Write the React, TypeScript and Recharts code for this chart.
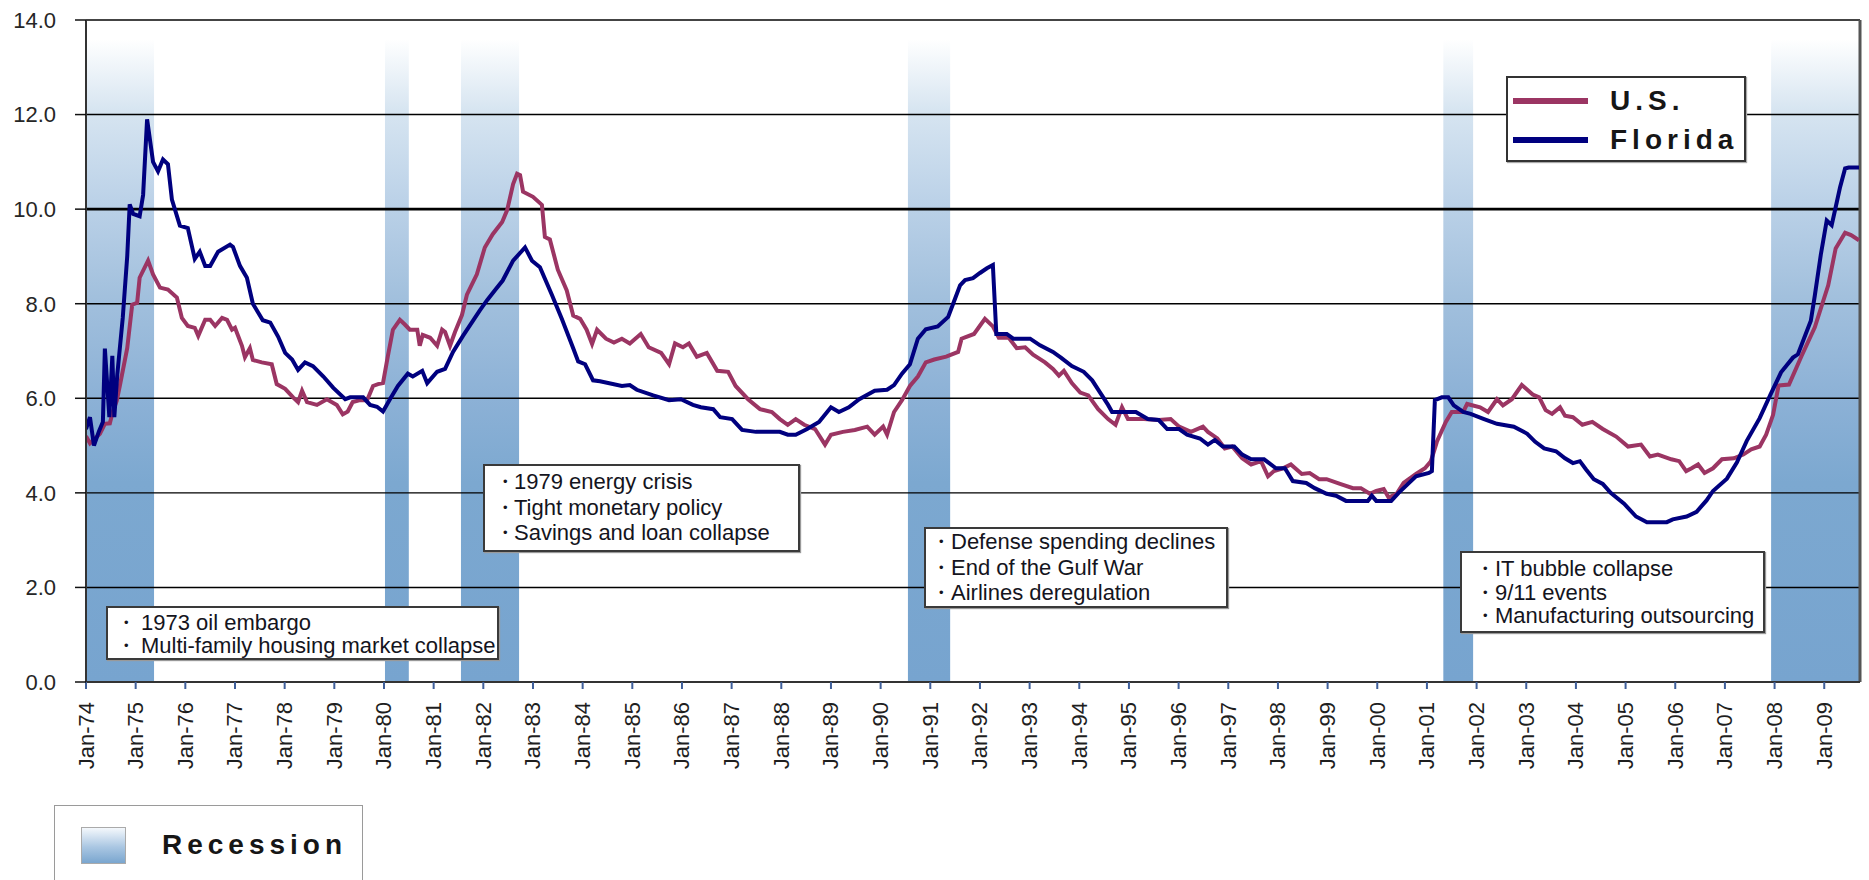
import React from 'react'
import { LineChart, Line, XAxis, YAxis, ReferenceArea, ReferenceLine, Legend } from 'recharts'

// Unemployment rate (%): [decimal year, rate]
const usRate: [number, number][] = [
  [1974.00, 5.2], [1974.08, 5.05], [1974.28, 5.25], [1974.38, 5.46], [1974.48, 5.47], [1974.54, 5.72], [1974.62, 5.95],
  [1974.68, 6.26], [1974.83, 7.06], [1974.93, 7.98], [1975.03, 8.02], [1975.08, 8.55], [1975.25, 8.91], [1975.35, 8.62],
  [1975.49, 8.34], [1975.65, 8.3], [1975.83, 8.13], [1975.93, 7.7], [1976.05, 7.53], [1976.19, 7.49], [1976.26, 7.32],
  [1976.40, 7.66], [1976.50, 7.66], [1976.60, 7.53], [1976.74, 7.7], [1976.84, 7.66], [1976.94, 7.45], [1977.00, 7.49],
  [1977.14, 7.11], [1977.20, 6.87], [1977.30, 7.06], [1977.36, 6.81], [1977.54, 6.76], [1977.74, 6.72], [1977.84, 6.3],
  [1978.01, 6.2], [1978.17, 6.02], [1978.27, 5.92], [1978.35, 6.16], [1978.45, 5.92], [1978.65, 5.86], [1978.85, 5.98],
  [1979.05, 5.86], [1979.17, 5.66], [1979.27, 5.72], [1979.37, 5.92], [1979.52, 5.96], [1979.66, 5.96], [1979.78, 6.26],
  [1979.88, 6.3], [1979.98, 6.32], [1980.08, 6.9], [1980.18, 7.45], [1980.32, 7.66], [1980.42, 7.56], [1980.52, 7.45],
  [1980.67, 7.45], [1980.72, 7.11], [1980.78, 7.34], [1980.93, 7.28], [1981.07, 7.11], [1981.17, 7.45], [1981.23, 7.4],
  [1981.33, 7.11], [1981.43, 7.4], [1981.57, 7.76], [1981.67, 8.19], [1981.87, 8.62], [1982.03, 9.19], [1982.19, 9.47],
  [1982.38, 9.73], [1982.48, 9.98], [1982.60, 10.53], [1982.68, 10.75], [1982.74, 10.72], [1982.80, 10.37], [1983.00, 10.26],
  [1983.18, 10.09], [1983.24, 9.41], [1983.34, 9.36], [1983.50, 8.72], [1983.68, 8.28], [1983.81, 7.75], [1983.95, 7.68],
  [1984.08, 7.45], [1984.19, 7.15], [1984.29, 7.45], [1984.47, 7.26], [1984.63, 7.18], [1984.79, 7.26], [1984.95, 7.16],
  [1985.17, 7.36], [1985.33, 7.08], [1985.58, 6.96], [1985.74, 6.72], [1985.86, 7.16], [1986.02, 7.08], [1986.14, 7.16],
  [1986.30, 6.88], [1986.50, 6.96], [1986.71, 6.58], [1986.93, 6.56], [1987.08, 6.26], [1987.33, 5.98], [1987.57, 5.77],
  [1987.81, 5.71], [1987.97, 5.56], [1988.13, 5.44], [1988.29, 5.56], [1988.46, 5.44], [1988.68, 5.35], [1988.88, 5.02],
  [1989.00, 5.23], [1989.24, 5.29], [1989.48, 5.33], [1989.73, 5.4], [1989.88, 5.23], [1990.05, 5.4], [1990.13, 5.23],
  [1990.27, 5.71], [1990.43, 5.96], [1990.59, 6.26], [1990.75, 6.46], [1990.91, 6.76], [1991.08, 6.82], [1991.32, 6.88],
  [1991.56, 6.98], [1991.63, 7.26], [1991.88, 7.36], [1992.10, 7.68], [1992.26, 7.52], [1992.38, 7.28], [1992.58, 7.28],
  [1992.74, 7.06], [1992.91, 7.08], [1993.07, 6.92], [1993.31, 6.76], [1993.47, 6.62], [1993.59, 6.48], [1993.69, 6.58],
  [1993.85, 6.32], [1994.02, 6.12], [1994.18, 6.06], [1994.38, 5.77], [1994.58, 5.56], [1994.73, 5.44], [1994.86, 5.81],
  [1994.98, 5.56], [1995.30, 5.56], [1995.60, 5.54], [1995.84, 5.56], [1996.01, 5.4], [1996.25, 5.29], [1996.49, 5.4],
  [1996.59, 5.29], [1996.78, 5.15], [1996.93, 4.94], [1997.08, 4.98], [1997.28, 4.73], [1997.46, 4.6], [1997.66, 4.67],
  [1997.80, 4.35], [1997.92, 4.46], [1998.10, 4.52], [1998.26, 4.6], [1998.48, 4.4], [1998.64, 4.42], [1998.83, 4.29],
  [1998.98, 4.29], [1999.25, 4.19], [1999.51, 4.1], [1999.67, 4.1], [1999.85, 3.98], [1999.98, 4.04], [2000.13, 4.08],
  [2000.23, 3.9], [2000.39, 3.98], [2000.53, 4.21], [2000.78, 4.4], [2000.96, 4.52], [2001.08, 4.67], [2001.20, 5.08],
  [2001.38, 5.5], [2001.50, 5.71], [2001.73, 5.71], [2001.81, 5.88], [2002.07, 5.81], [2002.23, 5.71], [2002.41, 5.98],
  [2002.53, 5.85], [2002.71, 5.98], [2002.91, 6.28], [2003.13, 6.08], [2003.26, 6.02], [2003.39, 5.75], [2003.52, 5.67],
  [2003.68, 5.81], [2003.78, 5.63], [2003.94, 5.6], [2004.13, 5.44], [2004.33, 5.5], [2004.54, 5.35], [2004.81, 5.19],
  [2005.05, 4.98], [2005.31, 5.02], [2005.49, 4.77], [2005.65, 4.81], [2005.92, 4.71], [2006.08, 4.67], [2006.22, 4.46],
  [2006.33, 4.52], [2006.46, 4.6], [2006.59, 4.42], [2006.76, 4.52], [2006.94, 4.71], [2007.18, 4.73], [2007.37, 4.81],
  [2007.53, 4.92], [2007.70, 4.98], [2007.83, 5.23], [2007.97, 5.65], [2008.08, 6.27], [2008.29, 6.29], [2008.55, 6.91],
  [2008.81, 7.5], [2009.08, 8.39], [2009.23, 9.17], [2009.42, 9.5], [2009.54, 9.45], [2009.70, 9.34],
]

const floridaRate: [number, number][] = [
  [1974.00, 5.35], [1974.08, 5.6], [1974.16, 5.0], [1974.26, 5.3], [1974.34, 5.5], [1974.38, 7.05], [1974.47, 5.6],
  [1974.53, 6.9], [1974.57, 5.6], [1974.63, 6.5], [1974.74, 7.7], [1974.83, 9.0], [1974.88, 10.1], [1974.95, 9.9],
  [1975.08, 9.85], [1975.15, 10.3], [1975.23, 11.9], [1975.35, 11.0], [1975.45, 10.8], [1975.55, 11.05], [1975.65, 10.95],
  [1975.73, 10.2], [1975.89, 9.65], [1976.05, 9.6], [1976.19, 8.95], [1976.29, 9.1], [1976.40, 8.8], [1976.50, 8.8],
  [1976.66, 9.1], [1976.90, 9.25], [1976.96, 9.2], [1977.10, 8.8], [1977.24, 8.55], [1977.36, 8.0], [1977.56, 7.65],
  [1977.71, 7.6], [1977.87, 7.3], [1978.01, 6.96], [1978.15, 6.82], [1978.27, 6.6], [1978.41, 6.76], [1978.57, 6.68],
  [1978.78, 6.46], [1978.98, 6.22], [1979.22, 5.98], [1979.32, 6.02], [1979.58, 6.02], [1979.72, 5.86], [1979.86, 5.82],
  [1979.98, 5.72], [1980.12, 5.98], [1980.28, 6.26], [1980.48, 6.52], [1980.58, 6.46], [1980.77, 6.58], [1980.87, 6.32],
  [1981.07, 6.56], [1981.23, 6.62], [1981.39, 6.98], [1981.59, 7.32], [1981.78, 7.62], [1981.93, 7.86], [1982.08, 8.08],
  [1982.23, 8.28], [1982.39, 8.49], [1982.60, 8.91], [1982.84, 9.19], [1982.98, 8.91], [1983.14, 8.77], [1983.38, 8.19],
  [1983.58, 7.68], [1983.81, 7.06], [1983.91, 6.78], [1984.05, 6.72], [1984.21, 6.38], [1984.35, 6.36], [1984.79, 6.26],
  [1984.95, 6.28], [1985.09, 6.18], [1985.42, 6.06], [1985.74, 5.96], [1985.98, 5.98], [1986.22, 5.86], [1986.38, 5.81],
  [1986.63, 5.77], [1986.77, 5.6], [1987.01, 5.56], [1987.21, 5.33], [1987.49, 5.29], [1987.97, 5.29], [1988.13, 5.23],
  [1988.29, 5.23], [1988.52, 5.35], [1988.76, 5.5], [1989.00, 5.81], [1989.16, 5.71], [1989.36, 5.81], [1989.57, 5.98],
  [1989.88, 6.16], [1990.13, 6.18], [1990.27, 6.28], [1990.43, 6.52], [1990.59, 6.72], [1990.75, 7.26], [1990.91, 7.46],
  [1991.15, 7.52], [1991.36, 7.72], [1991.46, 8.0], [1991.60, 8.39], [1991.70, 8.5], [1991.86, 8.54], [1992.00, 8.65],
  [1992.14, 8.75], [1992.26, 8.82], [1992.33, 7.36], [1992.54, 7.36], [1992.67, 7.26], [1993.01, 7.26], [1993.21, 7.12],
  [1993.47, 6.98], [1993.63, 6.86], [1993.85, 6.68], [1994.09, 6.56], [1994.26, 6.38], [1994.42, 6.12], [1994.58, 5.86],
  [1994.66, 5.71], [1995.14, 5.71], [1995.38, 5.56], [1995.60, 5.54], [1995.77, 5.35], [1996.01, 5.35], [1996.17, 5.23],
  [1996.43, 5.15], [1996.59, 5.02], [1996.73, 5.12], [1996.89, 4.98], [1997.12, 4.98], [1997.28, 4.81], [1997.46, 4.71],
  [1997.72, 4.71], [1997.96, 4.52], [1998.14, 4.52], [1998.30, 4.25], [1998.57, 4.21], [1998.74, 4.1], [1998.98, 3.98],
  [1999.17, 3.94], [1999.37, 3.83], [1999.81, 3.83], [1999.89, 3.94], [1999.98, 3.83], [2000.28, 3.83], [2000.43, 4.0],
  [2000.62, 4.19], [2000.78, 4.35], [2001.04, 4.42], [2001.10, 4.46], [2001.16, 5.96], [2001.30, 6.02], [2001.43, 6.02],
  [2001.54, 5.85], [2001.73, 5.71], [2001.88, 5.67], [2002.15, 5.56], [2002.41, 5.46], [2002.75, 5.4], [2003.02, 5.25],
  [2003.18, 5.08], [2003.36, 4.94], [2003.60, 4.88], [2003.78, 4.73], [2003.94, 4.63], [2004.08, 4.67], [2004.20, 4.5],
  [2004.36, 4.29], [2004.54, 4.19], [2004.70, 4.0], [2004.97, 3.77], [2005.21, 3.5], [2005.43, 3.38], [2005.83, 3.38],
  [2005.95, 3.44], [2006.23, 3.5], [2006.43, 3.6], [2006.63, 3.84], [2006.76, 4.04], [2007.04, 4.3], [2007.24, 4.64],
  [2007.44, 5.1], [2007.70, 5.58], [2007.91, 6.06], [2008.13, 6.55], [2008.37, 6.86], [2008.47, 6.93], [2008.73, 7.64],
  [2008.81, 8.17], [2008.93, 9.03], [2009.05, 9.76], [2009.15, 9.66], [2009.23, 10.04], [2009.32, 10.47], [2009.42, 10.86],
  [2009.49, 10.88], [2009.70, 10.88],
]

const yearTicks = [
  1974, 1975, 1976, 1977, 1978, 1979, 1980, 1981, 1982, 1983, 1984, 1985, 1986, 1987, 1988, 1989, 1990, 1991,
  1992, 1993, 1994, 1995, 1996, 1997, 1998, 1999, 2000, 2001, 2002, 2003, 2004, 2005, 2006, 2007, 2008, 2009,
]
const rateTicks = [0, 2, 4, 6, 8, 10, 12, 14]
const gridValues = [2, 4, 6, 8, 10, 12]

const recessionStart = [1974.0, 1980.02, 1981.55, 1990.55, 2001.33, 2007.93]
const recessionEnd = [1975.37, 1980.5, 1982.72, 1991.4, 2001.93, 2009.72]

const seriesOrder = ['U.S.', 'Florida']
const oilNotes = ['1973 oil embargo', 'Multi-family housing market collapse']
const energyNotes = ['1979 energy crisis', 'Tight monetary policy', 'Savings and loan collapse']
const gulfNotes = ['Defense spending declines', 'End of the Gulf War', 'Airlines deregulation']
const bubbleNotes = ['IT bubble collapse', '9/11 events', 'Manufacturing outsourcing']

const X_MAX = 2009.72
const FONT = 'Arial, "Liberation Sans", sans-serif'

const usData = usRate.map(([t, v]) => ({ t, v }))
const flData = floridaRate.map(([t, v]) => ({ t, v }))

function YearTick({ x, y, payload }: any) {
  const yy = String(payload.value % 100).padStart(2, '0')
  return (
    <text
      x={x}
      y={y}
      transform={`rotate(-90, ${x}, ${y})`}
      textAnchor="end"
      dominantBaseline="central"
      fontSize={22}
      fontFamily={FONT}
      fill="#1e1e1e"
    >
      {`Jan-${yy}`}
    </text>
  )
}

function SeriesLegend({ payload }: any) {
  const items = [...(payload || [])].sort(
    (a: any, b: any) => seriesOrder.indexOf(a.value) - seriesOrder.indexOf(b.value)
  )
  return (
    <div
      style={{
        width: 240,
        height: 86,
        boxSizing: 'border-box',
        border: '2px solid #333',
        boxShadow: '1px 1px 1px #aaa',
        background: '#fff',
        paddingTop: 3,
        fontFamily: FONT,
      }}
    >
      {items.map((entry: any) => (
        <div key={entry.value} style={{ display: 'flex', alignItems: 'center', height: 39 }}>
          <span style={{ display: 'inline-block', width: 75, height: 6, marginLeft: 5, background: entry.color }} />
          <span style={{ marginLeft: 22, fontSize: 28, fontWeight: 'bold', letterSpacing: 5, color: '#161616' }}>
            {entry.value}
          </span>
        </div>
      ))}
    </div>
  )
}

function NoteBox({ lines, left, top, width, height, lineHeight, padTop, bulletX, textX }: any) {
  return (
    <div
      style={{
        position: 'absolute',
        left,
        top,
        width,
        height,
        boxSizing: 'border-box',
        border: '2px solid #3a3a3a',
        boxShadow: '1px 1px 1px #999',
        background: '#fff',
        paddingTop: padTop,
        fontFamily: FONT,
        fontSize: 22,
        color: '#141420',
      }}
    >
      {lines.map((s: string) => (
        <div key={s} style={{ position: 'relative', height: lineHeight, lineHeight: `${lineHeight}px`, whiteSpace: 'nowrap' }}>
          <span style={{ position: 'absolute', left: bulletX, fontSize: 13 }}>•</span>
          <span style={{ position: 'absolute', left: textX }}>{s}</span>
        </div>
      ))}
    </div>
  )
}

export default function App() {
  return (
    <div style={{ position: 'absolute', left: 0, top: 0, width: 1869, height: 880, background: '#fff', overflow: 'hidden' }}>
      <LineChart width={1869} height={880} margin={{ top: 20, right: 9, bottom: 88, left: 0 }}>
        <defs>
          <linearGradient id="recessionFill" x1="0" y1="0" x2="0" y2="1">
            <stop offset="0" stopColor="#ffffff" />
            <stop offset="0.11" stopColor="#d7e5f1" />
            <stop offset="0.25" stopColor="#bcd2e8" />
            <stop offset="0.4" stopColor="#a2c0dd" />
            <stop offset="0.56" stopColor="#8cb1d6" />
            <stop offset="0.69" stopColor="#7ca8d0" />
            <stop offset="1" stopColor="#77a4cf" />
          </linearGradient>
        </defs>
        <XAxis
          dataKey="t"
          type="number"
          domain={[1974, X_MAX]}
          allowDataOverflow
          ticks={yearTicks}
          interval={0}
          height={110}
          tickSize={7}
          tickMargin={13}
          tick={<YearTick />}
          axisLine={{ stroke: '#333', strokeWidth: 2 }}
          tickLine={{ stroke: '#3f5f9a', strokeWidth: 2 }}
        />
        <YAxis
          dataKey="v"
          type="number"
          domain={[0, 14]}
          ticks={rateTicks}
          interval={0}
          width={86}
          tickSize={11}
          tickMargin={19}
          tickFormatter={(v: number) => v.toFixed(1)}
          tick={{ fontSize: 22, fill: '#262626', fontFamily: FONT }}
          axisLine={{ stroke: '#333', strokeWidth: 2 }}
          tickLine={{ stroke: '#111', strokeWidth: 1.5 }}
        />
        {recessionStart.map((s, i) => (
          <ReferenceArea
            key={s}
            x1={s}
            x2={recessionEnd[i]}
            y1={0}
            y2={13.6}
            fill="url(#recessionFill)"
            fillOpacity={1}
            stroke="none"
          />
        ))}
        {gridValues.map((g) => (
          <ReferenceLine key={g} y={g} stroke="#000" strokeWidth={g === 10 ? 2.6 : 1.4} />
        ))}
        <ReferenceLine y={14} stroke="#444" strokeWidth={2} />
        <ReferenceLine x={X_MAX} stroke="#555" strokeWidth={3} />
        <Line
          data={usData}
          dataKey="v"
          name="U.S."
          type="linear"
          stroke="#9b3563"
          strokeWidth={4}
          dot={false}
          isAnimationActive={false}
        />
        <Line
          data={flData}
          dataKey="v"
          name="Florida"
          type="linear"
          stroke="#00007f"
          strokeWidth={4}
          dot={false}
          isAnimationActive={false}
        />
        <Legend
          layout="vertical"
          align="center"
          verticalAlign="middle"
          wrapperStyle={{ left: 1506, top: 76, width: 240 }}
          content={<SeriesLegend />}
        />
      </LineChart>

      <NoteBox lines={oilNotes} left={106} top={606} width={393} height={54} lineHeight={23} padTop={3} bulletX={16} textX={33} />
      <NoteBox lines={energyNotes} left={483} top={464} width={317} height={88} lineHeight={25.5} padTop={3} bulletX={18} textX={29} />
      <NoteBox lines={gulfNotes} left={924} top={527} width={304} height={81} lineHeight={25.5} padTop={0} bulletX={13} textX={25} />
      <NoteBox lines={bubbleNotes} left={1460} top={551} width={305} height={82} lineHeight={23.5} padTop={4} bulletX={21} textX={33} />

      <div
        style={{
          position: 'absolute',
          left: 54,
          top: 805,
          width: 309,
          height: 75,
          boxSizing: 'border-box',
          border: '1.5px solid #9a9a9a',
          borderBottom: 'none',
          background: '#fff',
          fontFamily: FONT,
        }}
      >
        <div
          style={{
            position: 'absolute',
            left: 26,
            top: 21,
            width: 45,
            height: 37,
            boxSizing: 'border-box',
            border: '1px solid #aaa',
            background: 'linear-gradient(#f4f8fc, #a9c6e2 55%, #7aa6cf)',
          }}
        />
        <span
          style={{
            position: 'absolute',
            left: 107,
            top: 21,
            lineHeight: '36px',
            fontSize: 28,
            fontWeight: 'bold',
            letterSpacing: 5,
            color: '#161616',
          }}
        >
          Recession
        </span>
      </div>
    </div>
  )
}
